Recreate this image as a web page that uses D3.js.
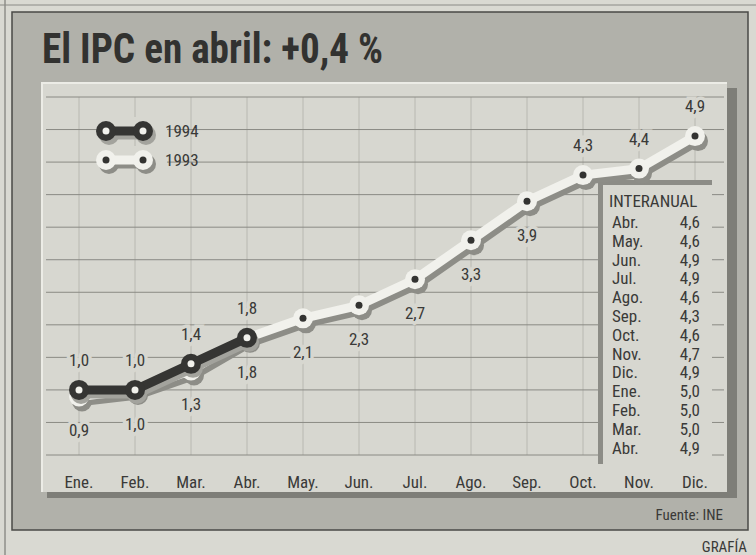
<!DOCTYPE html>
<html>
<head>
<meta charset="utf-8">
<script src="https://cdn.jsdelivr.net/npm/d3@7"></script>
<style>
  body { margin: 0; background: #d9d9d2; }
  svg { display: block; }
  text { font-family: "Liberation Sans Narrow", "Arial Narrow", "Roboto Condensed", sans-serif; fill: #3a3a38; }
</style>
</head>
<body>
<svg id="canvas" width="756" height="555"></svg>
<script>
// data
const months = ["Ene.", "Feb.", "Mar.", "Abr.", "May.", "Jun.", "Jul.", "Ago.", "Sep.", "Oct.", "Nov.", "Dic."];
const ipc1993 = [0.9, 1.0, 1.3, 1.8, 2.1, 2.3, 2.7, 3.3, 3.9, 4.3, 4.4, 4.9];
const ipc1994 = [1.0, 1.0, 1.4, 1.8];
const interMonths = ["Abr.", "May.", "Jun.", "Jul.", "Ago.", "Sep.", "Oct.", "Nov.", "Dic.", "Ene.", "Feb.", "Mar.", "Abr."];
const interValues = [4.6, 4.6, 4.9, 4.9, 4.6, 4.3, 4.6, 4.7, 4.9, 5.0, 5.0, 5.0, 4.9];

// which side the 1993 labels sit on (layout only)
const side1993 = ["b", "b", "b", "b", "b", "b", "b", "b", "b", "a", "a", "a"];

const panelColor = "#d7d7d0";
const svg = d3.select('#canvas');
const fmt = v => d3.format(".1f")(v).replace(".", ",");

// newspaper column rules
svg.append('line').attr('x1', 5).attr('x2', 5).attr('y1', 0).attr('y2', 555)
    .attr('stroke', '#6a6a66').attr('stroke-width', 1);
svg.append('line').attr('x1', 0).attr('x2', 756).attr('y1', 5).attr('y2', 5)
    .attr('stroke', '#8a8a86').attr('stroke-width', 1);

// outer frame
svg.append('rect').attr('x', 12).attr('y', 12).attr('width', 736).attr('height', 518)
    .attr('fill', '#b1b1aa').attr('stroke', '#4a4a47').attr('stroke-width', 1.5);

// panel shadow + panel
svg.append('rect').attr('x', 47).attr('y', 88).attr('width', 690).attr('height', 410)
    .attr('fill', '#7e7e78');
svg.append('rect').attr('x', 42).attr('y', 83).attr('width', 685).attr('height', 409)
    .attr('fill', panelColor);
svg.append('path').attr('d', 'M42,492 V83 H727')
    .attr('fill', 'none').attr('stroke', '#ecece6').attr('stroke-width', 2);

// title
svg.append('text')
    .attr('x', 42).attr('y', 63)
    .attr('font-size', 42).attr('font-weight', 'bold')
    .attr('textLength', 341).attr('lengthAdjust', 'spacingAndGlyphs')
    .style('fill', '#323230')
    .text('El IPC en abril: +0,4 %');

let x = d3.scalePoint().domain(months).range([79, 695]);
let y = d3.scaleLinear().domain([0, 5.5]).range([455, 97]);

// gridlines
svg.append('g').selectAll('line')
    .data(months)
    .join('line')
    .attr('x1', d => x(d)).attr('x2', d => x(d))
    .attr('y1', y(5.5)).attr('y2', y(0))
    .attr('stroke', '#b8b8b1').attr('stroke-width', 1);

svg.append('g').selectAll('line')
    .data(y.ticks(11))
    .join('line')
    .attr('x1', 46).attr('x2', 724)
    .attr('y1', d => y(d)).attr('y2', d => y(d))
    .attr('stroke', '#8a8a84').attr('stroke-width', 1);

// month labels
svg.append('g').selectAll('text')
    .data(months)
    .join('text')
    .attr('x', d => x(d)).attr('y', 488)
    .attr('text-anchor', 'middle').attr('font-size', 17)
    .text(d => d);

// interanual box
const box = svg.append('g');
box.append('rect').attr('x', 598).attr('y', 180).attr('width', 114).attr('height', 284)
    .attr('fill', '#8c8c86');
box.append('rect').attr('x', 603).attr('y', 185).attr('width', 109).attr('height', 279)
    .attr('fill', panelColor);
box.append('text').attr('x', 609).attr('y', 207).attr('font-size', 17).text('INTERANUAL');
box.selectAll('text.m')
    .data(interMonths)
    .join('text').attr('class', 'm')
    .attr('x', 612).attr('y', (d, i) => 228 + i * 18.8)
    .attr('font-size', 17)
    .text(d => d);
box.selectAll('text.v')
    .data(interValues)
    .join('text').attr('class', 'v')
    .attr('x', 700).attr('y', (d, i) => 228 + i * 18.8)
    .attr('text-anchor', 'end').attr('font-size', 17)
    .text(d => fmt(d));

const line = d3.line().x((d, i) => x(months[i])).y(d => y(d));

function drawSeries(values, lineColor, shadowColor, dotColor, dx, dy) {
    let g = svg.append('g');
    let sh = g.append('g').attr('transform', `translate(${dx},${dy})`);
    sh.append('path').attr('d', line(values))
        .attr('fill', 'none').attr('stroke', shadowColor).attr('stroke-width', 9)
        .attr('stroke-linejoin', 'round');
    sh.selectAll('circle').data(values).join('circle')
        .attr('cx', (d, i) => x(months[i])).attr('cy', d => y(d))
        .attr('r', 10).attr('fill', shadowColor);
    g.append('path').attr('d', line(values))
        .attr('fill', 'none').attr('stroke', lineColor).attr('stroke-width', 9)
        .attr('stroke-linejoin', 'round');
    g.selectAll('circle.o').data(values).join('circle').attr('class', 'o')
        .attr('cx', (d, i) => x(months[i])).attr('cy', d => y(d))
        .attr('r', 10).attr('fill', lineColor);
    g.selectAll('circle.i').data(values).join('circle').attr('class', 'i')
        .attr('cx', (d, i) => x(months[i])).attr('cy', d => y(d))
        .attr('r', 3.5).attr('fill', dotColor);
}

drawSeries(ipc1993, '#f1f1ec', '#8d8d87', '#333331', 3, 5);
drawSeries(ipc1994, '#353533', '#a3a39d', '#f1f1ec', 2, 4);

// value labels
function labels(values, sides) {
    svg.append('g').selectAll('text')
        .data(values)
        .join('text')
        .attr('x', (d, i) => x(months[i]))
        .attr('y', (d, i) => y(d) + (sides[i] == 'a' ? -24 : 40))
        .attr('text-anchor', 'middle').attr('font-size', 17)
        .attr('stroke', panelColor).attr('stroke-width', 7)
        .attr('paint-order', 'stroke')
        .text(d => fmt(d));
}
labels(ipc1993, side1993);
labels(ipc1994, ipc1994.map(() => 'a'));

// legend
const legend = [
    {name: '1994', line: '#353533', shadow: '#a3a39d', dot: '#f1f1ec', y: 131},
    {name: '1993', line: '#f1f1ec', shadow: '#8d8d87', dot: '#333331', y: 160}
];
for (let l of legend) {
    let g = svg.append('g');
    g.append('rect').attr('x', 105).attr('y', l.y - 14).attr('width', 62).attr('height', 22)
        .attr('fill', panelColor);
    g.append('line').attr('x1', 109).attr('x2', 146).attr('y1', l.y + 4).attr('y2', l.y + 4)
        .attr('stroke', l.shadow).attr('stroke-width', 9);
    [109, 146].forEach(cx => g.append('circle').attr('cx', cx).attr('cy', l.y + 4).attr('r', 10).attr('fill', l.shadow));
    g.append('line').attr('x1', 106).attr('x2', 143).attr('y1', l.y).attr('y2', l.y)
        .attr('stroke', l.line).attr('stroke-width', 9);
    [106, 143].forEach(cx => {
        g.append('circle').attr('cx', cx).attr('cy', l.y).attr('r', 10).attr('fill', l.line);
        g.append('circle').attr('cx', cx).attr('cy', l.y).attr('r', 3.5).attr('fill', l.dot);
    });
    g.append('text').attr('x', 165).attr('y', l.y + 6).attr('font-size', 17).text(l.name);
}

// footer
svg.append('text').attr('x', 723).attr('y', 520).attr('text-anchor', 'end')
    .attr('font-size', 15).text('Fuente: INE');
svg.append('text').attr('x', 747).attr('y', 552).attr('text-anchor', 'end')
    .attr('font-size', 15).text('GRAFÍA');
</script>
</body>
</html>
